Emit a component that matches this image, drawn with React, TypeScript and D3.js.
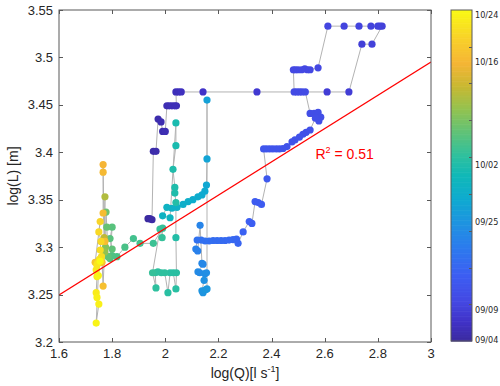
import React, { useEffect, useRef } from 'react';
import * as d3 from 'd3';

// axis ticks
const xTicks = [1.6, 1.8, 2, 2.2, 2.4, 2.6, 2.8, 3];
const yTicks = [3.2, 3.25, 3.3, 3.35, 3.4, 3.45, 3.5, 3.55];

// colorbar (position along the bar, 0 = bottom, 1 = top)
const cbLabels = ['09/04', '09/09', '09/25', '10/02', '10/16', '10/24'];
const cbLabelAt = [0.003, 0.094, 0.36, 0.532, 0.843, 0.985];
const cbTickAt = [0.111, 0.222, 0.333, 0.444, 0.556, 0.667, 0.778, 0.889];

// samples in time order: log(Q), log(L), colour position (time)
const logQ = [
  1.935, 1.942, 1.95, 1.955, 1.965, 1.973, 1.984, 1.99, 2.0, 2.006, 2.015, 2.025, 2.035, 2.042,
  2.04, 2.05, 2.06, 2.142, 2.345, 2.609, 2.691, 2.74, 2.778, 2.816, 2.808, 2.8, 2.774, 2.729,
  2.673, 2.612, 2.575, 2.545, 2.535, 2.525, 2.513, 2.5, 2.49, 2.482, 2.485, 2.495, 2.505, 2.515,
  2.527, 2.545, 2.56, 2.575, 2.585, 2.578, 2.565, 2.545, 2.53, 2.518, 2.505, 2.488, 2.477, 2.458,
  2.443, 2.43, 2.418, 2.405, 2.393, 2.381, 2.37, 2.383, 2.362, 2.35, 2.338, 2.326, 2.316, 2.293,
  2.274, 2.268, 2.255, 2.24, 2.225, 2.21, 2.195, 2.18, 2.165, 2.15, 2.135, 2.12,
  2.115, 2.122, 2.131, 2.138, 2.142, 2.123, 2.13, 2.149, 2.155, 2.146, 2.138, 2.142, 2.152, 2.157,
  2.157, 2.157, 2.155, 2.149, 2.138, 2.123, 2.104, 2.086, 2.067, 2.044, 2.025, 2.006, 1.99, 2.018,
  2.04, 2.04, 2.029, 2.036, 2.036, 2.04, 2.04, 2.042, 2.04, 2.03, 2.018, 2.01, 1.998, 1.985,
  1.972, 1.962, 1.965, 1.952, 1.98, 1.988, 1.99, 1.955, 1.905, 1.88, 1.848, 1.818, 1.8, 1.792,
  1.8, 1.792, 1.8, 1.785, 1.78, 1.777, 1.775, 1.772, 1.773, 1.77, 1.766, 1.766, 1.766, 1.773,
  1.766, 1.762, 1.736, 1.755, 1.75, 1.758, 1.755, 1.76, 1.752, 1.745, 1.743, 1.74, 1.743, 1.74,
  1.743, 1.75, 1.74, 1.748, 1.755,
];
const logL = [
  3.33, 3.33, 3.329, 3.401, 3.401, 3.435, 3.432, 3.422, 3.422, 3.449, 3.449, 3.449, 3.449, 3.449,
  3.4636, 3.4636, 3.4636, 3.4636, 3.4636, 3.4636, 3.4636, 3.514, 3.514, 3.533, 3.533, 3.533, 3.533, 3.533,
  3.533, 3.533, 3.489, 3.487, 3.487, 3.488, 3.487, 3.487, 3.487, 3.487, 3.4636, 3.4636, 3.4636, 3.4636,
  3.4636, 3.441, 3.441, 3.442, 3.437, 3.433, 3.436, 3.4235, 3.421, 3.419, 3.416, 3.413, 3.411, 3.406,
  3.404, 3.4035, 3.4035, 3.4035, 3.4035, 3.4035, 3.4035, 3.372, 3.345, 3.347, 3.348, 3.325, 3.327, 3.316,
  3.304, 3.3085, 3.308, 3.3075, 3.307, 3.307, 3.307, 3.307, 3.3065, 3.3065, 3.3075, 3.3075,
  3.298, 3.296, 3.323, 3.283, 3.282, 3.274, 3.273, 3.272, 3.273, 3.265, 3.254, 3.252, 3.255, 3.256,
  3.455, 3.393, 3.3655, 3.359, 3.355, 3.353, 3.35, 3.348, 3.345, 3.342, 3.341, 3.342, 3.333, 3.331,
  3.431, 3.407, 3.382, 3.363, 3.357, 3.347, 3.31, 3.273, 3.256, 3.273, 3.273, 3.252, 3.273, 3.273,
  3.274, 3.273, 3.257, 3.273, 3.319, 3.31, 3.32, 3.304, 3.304, 3.309, 3.3, 3.29, 3.291, 3.288,
  3.321, 3.309, 3.298, 3.29, 3.321, 3.337, 3.3, 3.295, 3.353, 3.31, 3.387, 3.379, 3.336, 3.306,
  3.259, 3.284, 3.284, 3.327, 3.316, 3.306, 3.297, 3.29, 3.287, 3.283, 3.281, 3.276, 3.269, 3.252,
  3.247, 3.24, 3.22, 3.27, 3.285,
];
const timePos = [
  0.0, 0.005, 0.01, 0.015, 0.02, 0.02, 0.025, 0.025, 0.03, 0.03, 0.03, 0.035, 0.035, 0.035,
  0.04, 0.04, 0.045, 0.06, 0.08, 0.09, 0.09, 0.095, 0.1, 0.1, 0.1, 0.105, 0.105, 0.11,
  0.11, 0.115, 0.12, 0.12, 0.12, 0.12, 0.125, 0.125, 0.125, 0.125, 0.13, 0.13, 0.13, 0.13,
  0.135, 0.14, 0.14, 0.14, 0.14, 0.145, 0.145, 0.15, 0.15, 0.15, 0.155, 0.155, 0.155, 0.16,
  0.16, 0.16, 0.165, 0.165, 0.165, 0.17, 0.17, 0.18, 0.19, 0.19, 0.19, 0.2, 0.2, 0.21,
  0.22, 0.22, 0.225, 0.23, 0.23, 0.235, 0.24, 0.24, 0.245, 0.25, 0.25, 0.255,
  0.3, 0.3, 0.31, 0.32, 0.32, 0.33, 0.33, 0.34, 0.34, 0.35, 0.36, 0.36, 0.37, 0.37,
  0.4, 0.41, 0.42, 0.43, 0.43, 0.44, 0.44, 0.45, 0.45, 0.46, 0.46, 0.47, 0.47, 0.48,
  0.52, 0.52, 0.53, 0.53, 0.53, 0.54, 0.54, 0.55, 0.55, 0.55, 0.55, 0.55, 0.56, 0.56,
  0.56, 0.56, 0.56, 0.57, 0.57, 0.57, 0.57, 0.58, 0.59, 0.59, 0.6, 0.6, 0.61, 0.61,
  0.62, 0.62, 0.63, 0.63, 0.64, 0.65, 0.68, 0.7, 0.74, 0.76, 0.84, 0.85, 0.86, 0.86,
  0.87, 0.88, 0.88, 0.92, 0.93, 0.93, 0.94, 0.94, 0.95, 0.95, 0.96, 0.96, 0.97, 0.97,
  0.98, 0.98, 0.99, 0.99, 1.0,
];

// linear fit log(L) = a + b log(Q)
const fitA = 2.969;
const fitB = 0.1754;
const fitR2 = '0.51';

// parula-like colormap
const cmapAt = [0, 0.06, 0.12, 0.2, 0.28, 0.36, 0.43, 0.5, 0.56, 0.63, 0.7, 0.77, 0.84, 0.91, 1];
const cmapCol = ['#3b2a9e', '#4032c8', '#4448e2', '#3c5ef2', '#2c7aee', '#1e94e0', '#0eaad0', '#10b8b8',
  '#2ec09e', '#5fc278', '#92c250', '#c8b832', '#f5b535', '#f8cf2a', '#f9f914'];

const FONT = 'Liberation Sans, Arial, sans-serif';

export default function App() {
  const ref = useRef<HTMLDivElement>(null);

  useEffect(() => {
    const el = ref.current;
    if (!el) return;
    d3.select(el).selectAll('*').remove();

    const W = 500, H = 386;
    const x = d3.scaleLinear().domain([1.6, 3]).range([59, 431]);
    const y = d3.scaleLinear().domain([3.2, 3.55]).range([342, 10]);
    const cb = d3.scaleLinear().domain([0, 1]).range([341, 10]);
    const color = d3.scaleLinear<string>().domain(cmapAt).range(cmapCol).interpolate(d3.interpolateRgb);

    const svg = d3.select(el).append('svg')
      .attr('width', W).attr('height', H)
      .style('display', 'block')
      .style('font-family', FONT);

    const [x0, x1] = x.range();
    const [y1, y0] = y.range();

    svg.append('rect').attr('width', W).attr('height', H).attr('fill', '#fff');

    svg.append('clipPath').attr('id', 'plotclip')
      .append('rect').attr('x', x0).attr('y', y0).attr('width', x1 - x0).attr('height', y1 - y0);

    const pts = logQ.map((q, i) => ({ q, l: logL[i], t: timePos[i] }));

    // trajectory line
    const line = d3.line<{ q: number; l: number }>().x(d => x(d.q)).y(d => y(d.l));
    svg.append('path').datum(pts)
      .attr('d', line)
      .attr('fill', 'none')
      .attr('stroke', '#b3b3b3')
      .attr('stroke-width', 1);

    // markers
    svg.append('g').selectAll('circle')
      .data(pts)
      .enter()
      .append('circle')
      .attr('cx', d => x(d.q))
      .attr('cy', d => y(d.l))
      .attr('r', 3.6)
      .attr('fill', d => color(d.t));

    // fit line
    const fq = x.domain();
    svg.append('line')
      .attr('clip-path', 'url(#plotclip)')
      .attr('x1', x(fq[0])).attr('y1', y(fitA + fitB * fq[0]))
      .attr('x2', x(fq[1])).attr('y2', y(fitA + fitB * fq[1]))
      .attr('stroke', '#ff0000').attr('stroke-width', 1.3);

    const r2 = svg.append('text')
      .attr('x', x(2.565)).attr('y', y(3.393))
      .attr('fill', '#ff0000').attr('font-size', 14);
    r2.append('tspan').text('R');
    r2.append('tspan').attr('font-size', 9).attr('dy', -6).text('2');
    r2.append('tspan').attr('dy', 6).text(' = ' + fitR2);

    // axes box and ticks
    const axisCol = '#595959';
    svg.append('rect')
      .attr('x', x0).attr('y', y0).attr('width', x1 - x0).attr('height', y1 - y0)
      .attr('fill', 'none').attr('stroke', axisCol).attr('stroke-width', 1);

    const tl = 4;
    xTicks.forEach(v => {
      const px = Math.round(x(v)) + 0.5;
      svg.append('line').attr('x1', px).attr('x2', px).attr('y1', y1).attr('y2', y1 - tl).attr('stroke', axisCol);
      svg.append('line').attr('x1', px).attr('x2', px).attr('y1', y0).attr('y2', y0 + tl).attr('stroke', axisCol);
      svg.append('text').attr('x', x(v)).attr('y', y1 + 16)
        .attr('text-anchor', 'middle').attr('font-size', 13).attr('fill', '#262626')
        .text(d3.format('~g')(v));
    });
    yTicks.forEach(v => {
      const py = Math.round(y(v)) + 0.5;
      svg.append('line').attr('x1', x0).attr('x2', x0 + tl).attr('y1', py).attr('y2', py).attr('stroke', axisCol);
      svg.append('line').attr('x1', x1).attr('x2', x1 - tl).attr('y1', py).attr('y2', py).attr('stroke', axisCol);
      svg.append('text').attr('x', x0 - 6).attr('y', y(v)).attr('dy', '0.35em')
        .attr('text-anchor', 'end').attr('font-size', 13).attr('fill', '#262626')
        .text(d3.format('~g')(v));
    });

    // axis titles
    svg.append('text')
      .attr('transform', `translate(13,${(y0 + y1) / 2}) rotate(-90)`)
      .attr('text-anchor', 'middle').attr('dy', '0.35em')
      .attr('font-size', 14).attr('fill', '#262626')
      .text('log(L) [m]');
    const xt = svg.append('text')
      .attr('x', (x0 + x1) / 2).attr('y', H - 8)
      .attr('text-anchor', 'middle').attr('font-size', 14).attr('fill', '#262626');
    xt.append('tspan').text('log(Q)[l s');
    xt.append('tspan').attr('font-size', 9).attr('dy', -6).text('-1');
    xt.append('tspan').attr('dy', 6).text(']');

    // colorbar
    const cbx = 451, cbw = 21;
    const steps = d3.range(0, 1, 1 / 200);
    svg.append('g').selectAll('rect')
      .data(steps)
      .enter()
      .append('rect')
      .attr('x', cbx)
      .attr('y', d => cb(d + 1 / 200))
      .attr('width', cbw)
      .attr('height', Math.abs(cb(0) - cb(1 / 200)) + 0.6)
      .attr('fill', d => color(d + 0.5 / 200));
    svg.append('rect')
      .attr('x', cbx).attr('y', cb(1)).attr('width', cbw).attr('height', cb(0) - cb(1))
      .attr('fill', 'none').attr('stroke', axisCol);
    cbTickAt.forEach(v => {
      const py = Math.round(cb(v)) + 0.5;
      svg.append('line').attr('x1', cbx + cbw).attr('x2', cbx + cbw - 3).attr('y1', py).attr('y2', py).attr('stroke', axisCol);
    });
    cbLabels.forEach((s, i) => {
      svg.append('text')
        .attr('x', cbx + cbw + 3).attr('y', cb(cbLabelAt[i])).attr('dy', '0.35em')
        .attr('font-family', 'DejaVu Sans Condensed, DejaVu Sans, sans-serif')
        .attr('font-size', 9).attr('fill', '#262626')
        .text(s);
    });
  }, []);

  return <div ref={ref} style={{ position: 'absolute', left: 0, top: 0 }} />;
}
